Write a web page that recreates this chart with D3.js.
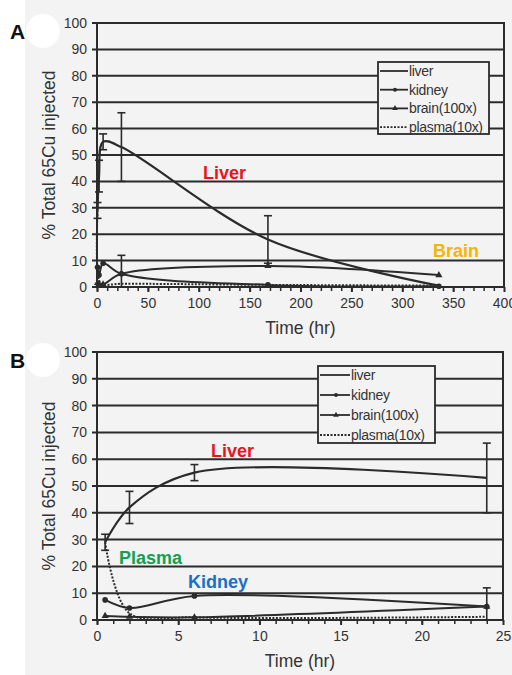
<!DOCTYPE html>
<html>
<head>
<meta charset="utf-8">
<script src="https://cdn.jsdelivr.net/npm/d3@7"></script>
<style>
  body { margin: 0; background: #fff; }
  svg { display: block; font-family: "Liberation Sans", Arial, sans-serif; }
</style>
</head>
<body>
<svg width="512" height="675"></svg>
<script>
// sampling times (hr)
var times = [0.5, 2, 6, 24, 168, 336];
// % total 65Cu injected
var liver = [29, 42, 55, 53, 18, 0.5];
var liverErr = [3, 6, 3, 13, 9, 0];
var kidney = [7.5, 4.5, 9, 5, 0.8, 0.3];
var kidneyErr = [0, 0, 0, 7, 0, 0];
var brain = [1.5, 1.2, 1, 5, 8, 4.5];
var plasma = [29, 2.5, 1, 1.2, 0.8, 0.5];

var yTicks = [0, 10, 20, 30, 40, 50, 60, 70, 80, 90, 100];
var xTicksA = [0, 50, 100, 150, 200, 250, 300, 350, 400];
var xTicksB = [0, 5, 10, 15, 20, 25];
var legendNames = ["liver", "kidney", "brain(100x)", "plasma(10x)"];

var svg = d3.select("svg");
var ink = "#2b2b2b";

svg.append("rect").attr("width", 512).attr("height", 675).attr("fill", "#f3f3f3");
svg.append("rect").attr("width", 25).attr("height", 675).attr("fill", "#fff");

function panel(opt) {
    var x = d3.scaleLinear().domain(opt.xdomain).range([opt.left, opt.right]);
    var y = d3.scaleLinear().domain([0, 100]).range([opt.bottom, opt.top]);
    var g = svg.append("g");

    // white blob behind panel letter
    g.append("circle").attr("cx", 43).attr("cy", opt.top + 8).attr("r", 17).attr("fill", "#fff");
    g.append("text")
    .attr("x", 10).attr("y", opt.top + 16)
    .attr("font-size", 21).attr("font-weight", "bold").attr("fill", "#111")
    .text(opt.letter);

    // horizontal grid
    g.selectAll(null).data(yTicks).enter().append("line")
    .attr("x1", opt.left - 5).attr("x2", opt.right)
    .attr("y1", function(d) { return y(d); }).attr("y2", function(d) { return y(d); })
    .attr("stroke", ink).attr("stroke-width", 2);

    g.append("rect")
    .attr("x", opt.left).attr("y", opt.top)
    .attr("width", opt.right - opt.left).attr("height", opt.bottom - opt.top)
    .attr("fill", "none").attr("stroke", ink).attr("stroke-width", 2);

    // y axis labels
    g.append("g")
    .attr("transform", "translate(" + opt.left + ",0)")
    .call(d3.axisLeft(y).tickValues(yTicks).tickSize(0).tickPadding(10))
    .call(function(a) { a.select(".domain").remove(); })
    .selectAll("text").attr("font-size", 14).attr("fill", "#333")
    .attr("font-family", "Liberation Sans, Arial, sans-serif");

    // x axis
    var xa = g.append("g")
    .attr("transform", "translate(0," + opt.bottom + ")")
    .call(d3.axisBottom(x).tickValues(opt.xticks).tickSize(5).tickPadding(6));
    xa.select(".domain").remove();
    xa.selectAll("line").attr("stroke", ink).attr("stroke-width", 2);
    xa.selectAll("text").attr("font-size", 14).attr("fill", "#333")
    .attr("font-family", "Liberation Sans, Arial, sans-serif");

    g.append("g")
    .attr("transform", "translate(0," + opt.bottom + ")")
    .call(d3.axisBottom(x).tickValues(d3.range(opt.xdomain[0], opt.xdomain[1], opt.minor)).tickSize(4).tickFormat(""))
    .call(function(a) { a.select(".domain").remove(); })
    .selectAll("line").attr("stroke", ink).attr("stroke-width", 1.5);

    g.append("text")
    .attr("x", (opt.left + opt.right) / 2).attr("y", opt.bottom + 47)
    .attr("text-anchor", "middle").attr("font-size", 17.5).attr("fill", "#333")
    .text("Time (hr)");

    g.append("text")
    .attr("transform", "translate(" + (opt.left - 42) + "," + ((opt.top + opt.bottom) / 2) + ")rotate(-90)")
    .attr("text-anchor", "middle").attr("font-size", 17.5).attr("fill", "#333")
    .text("% Total 65Cu injected");

    var n = opt.n;
    function pts(vals) {
        return times.slice(0, n).map(function(t, i) { return [x(t), y(vals[i])]; });
    }
    var line = d3.line().curve(d3.curveCatmullRom.alpha(0.5));

    var series = [
        {vals: liver, dash: null, w: 2.2},
        {vals: kidney, dash: null, w: 2},
        {vals: brain, dash: null, w: 2},
        {vals: plasma, dash: "2,1.5", w: 2}
    ];
    series.forEach(function(s) {
        g.append("path").attr("d", line(pts(s.vals)))
        .attr("fill", "none").attr("stroke", ink)
        .attr("stroke-width", s.w).attr("stroke-dasharray", s.dash);
    });

    // markers
    g.selectAll(null).data(pts(kidney)).enter().append("circle")
    .attr("cx", function(d) { return d[0]; }).attr("cy", function(d) { return d[1]; })
    .attr("r", 2.8).attr("fill", ink);
    g.selectAll(null).data(pts(brain)).enter().append("path")
    .attr("transform", function(d) { return "translate(" + d[0] + "," + d[1] + ")"; })
    .attr("d", d3.symbol(d3.symbolTriangle, 22)).attr("fill", ink);

    // error bars
    function errBars(vals, errs) {
        times.slice(0, n).forEach(function(t, i) {
            if (!errs[i]) return;
            var lo = Math.max(0, vals[i] - errs[i]), hi = vals[i] + errs[i];
            var cx = x(t);
            g.append("line").attr("x1", cx).attr("x2", cx).attr("y1", y(lo)).attr("y2", y(hi))
            .attr("stroke", ink).attr("stroke-width", 1.6);
            [lo, hi].forEach(function(v) {
                g.append("line").attr("x1", cx - 4).attr("x2", cx + 4).attr("y1", y(v)).attr("y2", y(v))
                .attr("stroke", ink).attr("stroke-width", 1.6);
            });
        });
    }
    errBars(liver, liverErr);
    errBars(kidney, kidneyErr);

    // legend
    var L = opt.legend;
    var lg = g.append("g");
    lg.append("rect").attr("x", L.x).attr("y", L.y).attr("width", L.w).attr("height", L.h)
    .attr("fill", "#f3f3f3").attr("stroke", ink).attr("stroke-width", 1.8);
    legendNames.forEach(function(name, i) {
        var ly = L.y + 9 + i * L.step;
        lg.append("line").attr("x1", L.x + 2).attr("x2", L.x + L.sw).attr("y1", ly).attr("y2", ly)
        .attr("stroke", ink).attr("stroke-width", 1.8)
        .attr("stroke-dasharray", i === 3 ? "2,1.5" : null);
        if (i === 1) lg.append("circle").attr("cx", L.x + L.sw / 2 + 2).attr("cy", ly).attr("r", 2).attr("fill", ink);
        if (i === 2) lg.append("path").attr("transform", "translate(" + (L.x + L.sw / 2 + 2) + "," + ly + ")")
            .attr("d", d3.symbol(d3.symbolTriangle, 14)).attr("fill", ink);
        lg.append("text").attr("x", L.x + L.sw + 1).attr("y", ly + 5)
        .attr("font-size", 14).attr("letter-spacing", -0.3).attr("fill", "#333").text(name);
    });

    opt.labels.forEach(function(lb) {
        g.append("text").attr("x", lb.x).attr("y", lb.y)
        .attr("font-size", 18).attr("font-weight", "bold").attr("fill", lb.color)
        .text(lb.text);
    });
}

panel({
    letter: "A", xdomain: [0, 400], xticks: xTicksA, minor: 10, n: 6,
    left: 97, right: 504, top: 23, bottom: 287,
    legend: {x: 378, y: 62, w: 111, h: 72, step: 18.7, sw: 30},
    labels: [
        {text: "Liver", x: 203, y: 179, color: "#e8141e"},
        {text: "Brain", x: 433, y: 257, color: "#f8b500"}
    ]
});

panel({
    letter: "B", xdomain: [0, 25], xticks: xTicksB, minor: 1, n: 4,
    left: 97, right: 503, top: 352, bottom: 620,
    legend: {x: 318, y: 366, w: 117, h: 77, step: 20, sw: 32},
    labels: [
        {text: "Liver", x: 211, y: 457, color: "#e8141e"},
        {text: "Plasma", x: 119, y: 564, color: "#12a050"},
        {text: "Kidney", x: 188, y: 588, color: "#1a70c4"}
    ]
});
</script>
</body>
</html>
